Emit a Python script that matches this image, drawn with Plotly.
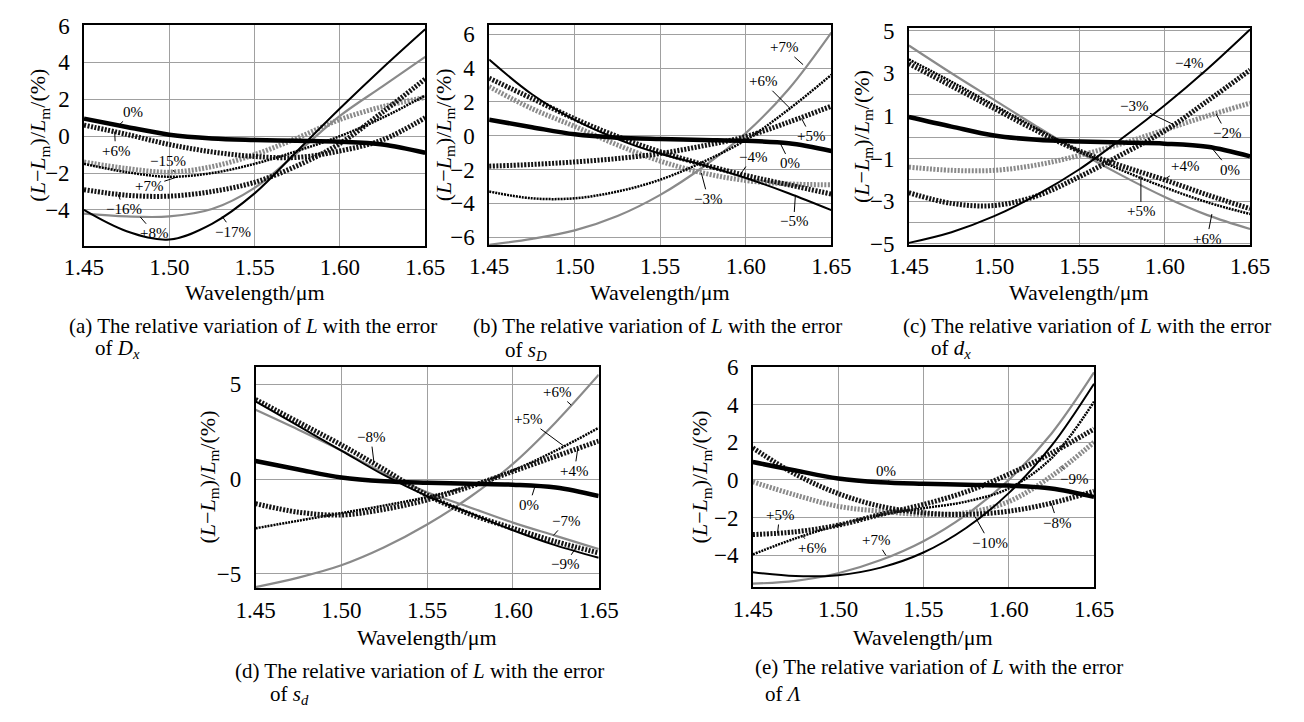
import plotly.graph_objects as go

# ---------------- data ----------------
wavelength = [1.45, 1.475, 1.50, 1.525, 1.55, 1.575, 1.60, 1.625, 1.65]
x_tick_labels = ["1.45", "1.50", "1.55", "1.60", "1.65"]
x_tick_vals = [1.45, 1.50, 1.55, 1.60, 1.65]

ref_0pct = [0.95, 0.5, 0.08, -0.12, -0.2, -0.25, -0.3, -0.45, -0.9]

# (a) error of Dx
a_thin_black = [-4.0, -5.15, -5.6, -4.75, -3.1, -0.8, 1.5, 3.7, 5.8]
a_thin_gray = [-4.2, -4.35, -4.35, -3.95, -2.8, -0.9, 1.1, 2.7, 4.3]
a_thick_dot_1 = [0.6, 0.1, -0.45, -0.85, -1.1, -1.15, -0.8, -0.2, 1.0]
a_gray_dot = [-1.4, -1.75, -1.95, -1.65, -1.0, -0.1, 0.9, 1.6, 2.1]
a_thin_dot = [-1.5, -1.95, -2.2, -2.0, -1.5, -0.8, 0.0, 1.0, 2.2]
a_thick_dot_2 = [-2.9, -3.2, -3.25, -3.0, -2.5, -1.6, -0.4, 1.3, 3.1]

# (b) error of sD
b_thin_black = [4.5, 2.45, 0.93, -0.2, -1.07, -1.73, -2.5, -3.4, -4.4]
b_thick_dot_1 = [3.4, 2.2, 1.0, -0.05, -0.95, -1.7, -2.35, -2.9, -3.45]
b_gray_dot = [2.9, 1.6, 0.55, -0.55, -1.5, -2.2, -2.65, -2.85, -2.9]
b_thin_gray = [-6.45, -6.1, -5.6, -4.75, -3.5, -1.85, 0.15, 2.75, 6.1]
b_thin_dot = [-3.3, -3.7, -3.7, -3.3, -2.6, -1.55, -0.25, 1.55, 3.6]
b_thick_dot_2 = [-1.8, -1.7, -1.55, -1.35, -1.05, -0.6, -0.05, 0.8, 1.75]

# (c) error of dx
c_thin_black = [-4.95, -4.45, -3.7, -2.7, -1.5, -0.05, 1.5, 3.2, 5.05]
c_thick_dot_1 = [-2.6, -3.1, -3.2, -2.75, -1.85, -0.8, 0.3, 1.7, 3.15]
c_gray_dot = [-1.4, -1.55, -1.55, -1.3, -0.85, -0.3, 0.35, 1.0, 1.6]
c_thin_gray = [4.3, 3.0, 1.75, 0.5, -0.7, -1.8, -2.8, -3.65, -4.3]
c_thin_dot = [3.65, 2.6, 1.5, 0.4, -0.65, -1.55, -2.35, -3.05, -3.6]
c_thick_dot_2 = [3.45, 2.4, 1.35, 0.3, -0.65, -1.35, -2.0, -2.7, -3.35]

# (d) error of sd
d_thin_gray_1 = [-5.7, -5.2, -4.55, -3.6, -2.4, -0.95, 0.8, 3.0, 5.5]
d_thick_dot_1 = [-1.3, -1.75, -1.9, -1.6, -1.1, -0.4, 0.4, 1.2, 2.0]
d_thin_dot = [-2.6, -2.2, -1.8, -1.4, -0.95, -0.35, 0.45, 1.5, 2.7]
d_thin_black = [4.1, 2.8, 1.5, 0.2, -0.9, -1.8, -2.7, -3.5, -4.15]
d_thick_dot_2 = [4.2, 3.0, 1.8, 0.5, -0.85, -1.85, -2.6, -3.3, -3.9]
d_thin_gray_2 = [3.65, 2.6, 1.5, 0.3, -0.7, -1.5, -2.3, -3.0, -3.7]

# (e) error of Lambda
e_thin_black = [-4.9, -5.1, -5.05, -4.65, -3.85, -2.55, -0.7, 1.8, 5.1]
e_thin_gray = [-5.5, -5.35, -4.95, -4.25, -3.25, -1.85, 0.0, 2.45, 5.7]
e_thin_dot = [-3.95, -3.1, -2.4, -1.85, -1.5, -1.15, -0.45, 1.15, 4.15]
e_thick_dot_1 = [-2.9, -2.75, -2.4, -1.83, -1.3, -0.63, 0.3, 1.42, 2.7]
e_thick_dot_2 = [1.7, 0.3, -0.72, -1.4, -1.74, -1.83, -1.66, -1.23, -0.6]
e_gray_dot = [-0.1, -0.8, -1.4, -1.66, -1.83, -1.74, -1.15, 0.2, 2.0]

# ---------------- styles ----------------
FONT = "Liberation Serif, 'Times New Roman', Times, serif"
STY = {
    "ref": dict(color="black", width=4.5),
    "thin_black": dict(color="black", width=2),
    "thin_gray": dict(color="#8a8a8a", width=2.2),
    "thick_dot": dict(color="#141414", width=5, dash="2px,1.5px"),
    "thin_dot": dict(color="black", width=2.5, dash="2px,1px"),
    "gray_dot": dict(color="#8a8a8a", width=5, dash="2px,1.5px"),
}

panels = [
    [(a_thin_gray, "thin_gray"), (a_gray_dot, "gray_dot"), (a_thin_dot, "thin_dot"),
     (a_thick_dot_1, "thick_dot"), (a_thick_dot_2, "thick_dot"), (a_thin_black, "thin_black")],
    [(b_thin_gray, "thin_gray"), (b_gray_dot, "gray_dot"), (b_thin_dot, "thin_dot"),
     (b_thick_dot_1, "thick_dot"), (b_thick_dot_2, "thick_dot"), (b_thin_black, "thin_black")],
    [(c_thin_gray, "thin_gray"), (c_gray_dot, "gray_dot"), (c_thin_dot, "thin_dot"),
     (c_thick_dot_1, "thick_dot"), (c_thick_dot_2, "thick_dot"), (c_thin_black, "thin_black")],
    [(d_thin_gray_1, "thin_gray"), (d_thin_gray_2, "thin_gray"), (d_thin_dot, "thin_dot"),
     (d_thick_dot_1, "thick_dot"), (d_thick_dot_2, "thick_dot"), (d_thin_black, "thin_black")],
    [(e_thin_gray, "thin_gray"), (e_gray_dot, "gray_dot"), (e_thin_dot, "thin_dot"),
     (e_thick_dot_1, "thick_dot"), (e_thick_dot_2, "thick_dot"), (e_thin_black, "thin_black")],
]

W, H = 1304, 722
# plot-area pixel boxes (left, right, top, bottom)
boxes = [(66, 418, 13, 242), (484, 837, 13, 241), (917, 1269, 17, 241),
         (243, 597, 367, 596), (756, 1108, 367, 595)]
yranges = [[-5.95, 6.05], [-6.46, 6.57], [-5.05, 5.1], [-5.76, 5.92], [-5.69, 6.0]]
M = "\u2212"
ytickvals = [[-4, -2, 0, 2, 4, 6], [-6, -4, -2, 0, 2, 4, 6], list(range(-5, 6)),
             [-5, 0, 5], [-4, -2, 0, 2, 4, 6]]


def tlabel(v, show=True):
    if not show:
        return ""
    return (M + str(abs(v))) if v < 0 else str(v)


yticktext = []
for i, tv in enumerate(ytickvals):
    if i == 2:
        yticktext.append([tlabel(v, v % 2 != 0) for v in tv])
    else:
        yticktext.append([tlabel(v) for v in tv])

fig = go.Figure()
for i, curves in enumerate(panels):
    xa = "x" if i == 0 else f"x{i+1}"
    ya = "y" if i == 0 else f"y{i+1}"
    for vals, s in curves + [(ref_0pct, "ref")]:
        fig.add_trace(go.Scatter(x=wavelength, y=vals, mode="lines", xaxis=xa, yaxis=ya,
                                 line=dict(shape="spline", smoothing=1.0, **STY[s]),
                                 showlegend=False, hoverinfo="skip"))

layout = dict(width=W, height=H, margin=dict(l=0, r=0, t=0, b=0),
              paper_bgcolor="white", plot_bgcolor="white", showlegend=False,
              font=dict(family=FONT, color="black"))
for i, (l, r, t, b) in enumerate(boxes):
    sx = "" if i == 0 else str(i + 1)
    layout["xaxis" + sx] = dict(domain=[l / W, r / W], range=[1.45, 1.65], anchor="y" + sx,
                                tickvals=x_tick_vals, ticktext=x_tick_labels,
                                showgrid=True, gridcolor="#a0a0a0", gridwidth=1,
                                showline=True, mirror=True, linecolor="black", linewidth=1.5,
                                zeroline=False, ticks="", ticklen=0,
                                tickfont=dict(size=23, family=FONT), ticklabelstandoff=0)
    layout["yaxis" + sx] = dict(domain=[1 - b / H, 1 - t / H], range=yranges[i], anchor="x" + sx,
                                tickvals=ytickvals[i], ticktext=yticktext[i],
                                showgrid=True, gridcolor="#a0a0a0", gridwidth=1,
                                showline=True, mirror=True, linecolor="black", linewidth=1.5,
                                zeroline=False, ticks="", ticklen=0,
                                tickfont=dict(size=23, family=FONT), ticklabelstandoff=8)
fig.update_layout(**layout)

# curve labels: (panel, text, text_x, text_y, tip_x, tip_y)
labels = [
    (0, "0%", 1.479, 1.32, 1.4705, 0.6), (0, "+6%", 1.4685, -0.79, 1.468, 0.25),
    (0, M + "15%", 1.499, -1.32, 1.503, -1.95), (0, "+7%", 1.488, -2.72, 1.505, -2.2),
    (0, M + "16%", 1.4733, -3.95, 1.470, -3.15), (0, "+8%", 1.4912, -5.26, 1.483, -4.38),
    (0, M + "17%", 1.5375, -5.18, 1.531, -4.35),
    (1, "+7%", 1.6222, 5.22, 1.6335, 4.2), (1, "+6%", 1.610, 3.22, 1.626, 1.6),
    (1, "+5%", 1.638, -0.02, 1.6326, 1.02), (1, "0%", 1.626, -1.64, 1.620, -0.42),
    (1, M + "4%", 1.604, -1.26, 1.596, -2.4), (1, M + "3%", 1.578, -3.73, 1.574, -2.2),
    (1, M + "5%", 1.628, -5.07, 1.629, -3.5),
    (2, M + "4%", 1.6144, 3.5, 1.6225, 2.95), (2, M + "3%", 1.5822, 1.48, 1.605, 0.6),
    (2, M + "2%", 1.6362, 0.2, 1.63, 1.1), (2, "0%", 1.638, -1.52, 1.627, -0.45),
    (2, "+4%", 1.6116, -1.37, 1.5993, -2.0), (2, "+5%", 1.586, -3.47, 1.586, -1.8),
    (2, "+6%", 1.6248, -4.75, 1.6276, -3.6),
    (3, "+6%", 1.6255, 4.59, 1.634, 3.9), (3, "+5%", 1.6086, 3.15, 1.630, 1.72),
    (3, "+4%", 1.6359, 0.43, 1.6378, 1.6), (3, M + "8%", 1.5172, 2.21, 1.519, 0.88),
    (3, "0%", 1.6095, -1.36, 1.613, -0.35), (3, M + "7%", 1.6312, -2.21, 1.6236, -2.98),
    (3, M + "9%", 1.6302, -4.5, 1.637, -3.6),
    (4, "0%", 1.5282, 0.48, 1.530, -0.15), (4, M + "9%", 1.638, 0.05, 1.6305, 0.73),
    (4, "+5%", 1.4657, -1.86, 1.4645, -2.82), (4, M + "8%", 1.6286, -2.26, 1.6249, -1.23),
    (4, "+6%", 1.4847, -3.62, 1.479, -2.94), (4, "+7%", 1.5225, -3.2, 1.528, -4.0),
    (4, M + "10%", 1.5888, -3.33, 1.5803, -1.95),
]
annots = []
for p, txt, tx, ty, px, py in labels:
    sx = "" if p == 0 else str(p + 1)
    annots.append(dict(x=px, y=py, ax=tx, ay=ty, xref="x" + sx, yref="y" + sx,
                       axref="x" + sx, ayref="y" + sx, text=txt, showarrow=True,
                       arrowhead=0, arrowwidth=1, arrowcolor="black", standoff=0,
                       font=dict(size=15, family=FONT, color="black")))

ytitle = "(<i>L</i>" + M + "<i>L</i><sub>m</sub>)/<i>L</i><sub>m</sub>/(%)"
ytitle_x = [20, 438, 869, 195, 703]
for i, (l, r, t, b) in enumerate(boxes):
    annots.append(dict(x=ytitle_x[i] / W, y=1 - (t + b) / 2 / H, xref="paper", yref="paper",
                       text=ytitle, textangle=-90, showarrow=False, xanchor="center",
                       yanchor="middle", font=dict(size=22, family=FONT)))
    xt_y = 290 if i < 3 else 647
    annots.append(dict(x=(l + r) / 2 / W, y=1 - xt_y / H, xref="paper", yref="paper",
                       text="Wavelength/\u03bcm", showarrow=False, xanchor="center",
                       yanchor="middle", font=dict(size=22, family=FONT)))

captions = [
    ("(a)", "of <i>D<sub>x</sub></i>", 48, 75, 325, 349),
    ("(b)", "of <i>s<sub>D</sub></i>", 465, 498, 325, 351),
    ("(c)", "of <i>d<sub>x</sub></i>", 909, 938, 325, 349),
    ("(d)", "of <i>s<sub>d</sub></i>", 220, 256, 682, 706),
    ("(e)", "of <i>\u039b</i>", 756, 767, 678, 705),
]
for tag, line2, x1, x2, y1, y2 in captions:
    annots.append(dict(x=x1 / W, y=1 - y1 / H, xref="paper", yref="paper",
                       text=tag + " The relative variation of <i>L</i> with the error",
                       showarrow=False, xanchor="left", yanchor="middle",
                       font=dict(size=21, family=FONT)))
    annots.append(dict(x=x2 / W, y=1 - y2 / H, xref="paper", yref="paper", text=line2,
                       showarrow=False, xanchor="left", yanchor="middle",
                       font=dict(size=21, family=FONT)))

fig.update_layout(annotations=annots)
fig.write_html("out.html")
